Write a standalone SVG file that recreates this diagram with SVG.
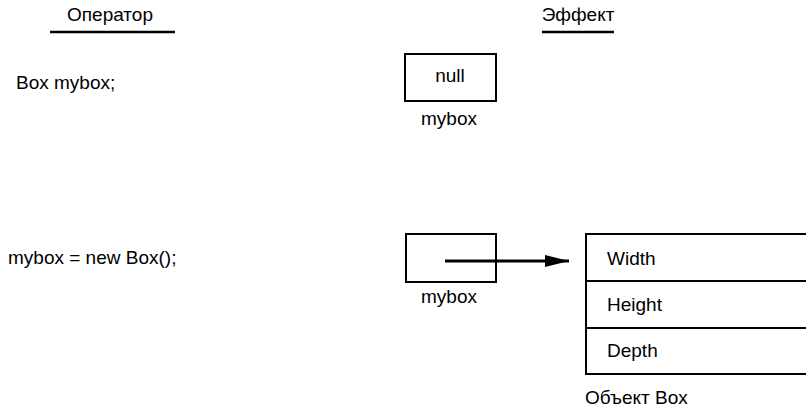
<svg xmlns="http://www.w3.org/2000/svg" width="806" height="408" viewBox="0 0 806 408">
<style>
text{font-family:"Liberation Sans",Arial,sans-serif;font-size:19px;fill:#000}
.box{fill:#fff;stroke:#000;stroke-width:2}
.rule{stroke:#000;stroke-width:2.5}
.mid{text-anchor:middle}
</style>
<defs>
<marker id="ah" markerWidth="8" markerHeight="4" refX="8" refY="2" orient="auto" markerUnits="strokeWidth"><path d="M0,0 L8,2 L0,4 Z" fill="#000"/></marker>
</defs>
<rect width="806" height="408" fill="#fff"/>
<g id="header-operator">
<text x="110" y="21" class="mid">Оператор</text>
<line class="rule" x1="50" y1="32" x2="175" y2="32"/>
</g>
<g id="header-effect">
<text x="578" y="21" class="mid">Эффект</text>
<line class="rule" x1="542" y1="32" x2="614" y2="32"/>
</g>
<g id="stmt1"><text x="16" y="89">Box mybox;</text></g>
<g id="stmt2"><text x="8" y="264">mybox = new Box();</text></g>
<g id="ref-null">
<rect class="box" x="405" y="54" width="91" height="47"/>
<text x="450" y="82" class="mid">null</text>
<text x="449" y="125" class="mid">mybox</text>
</g>
<g id="ref-obj">
<rect class="box" x="406" y="234" width="90" height="48"/>
<text x="449" y="303" class="mid">mybox</text>
</g>
<g id="box-object">
<rect class="box" x="586" y="234" width="240" height="140"/>
<line x1="586" y1="281" x2="806" y2="281" stroke="#000" stroke-width="2"/>
<line x1="586" y1="328" x2="806" y2="328" stroke="#000" stroke-width="2"/>
<text x="607" y="265">Width</text>
<text x="607" y="311">Height</text>
<text x="607" y="357">Depth</text>
<text x="585" y="404">Объект Box</text>
</g>
<g id="connectors">
<line x1="445" y1="261" x2="569" y2="261" stroke="#000" stroke-width="3" marker-end="url(#ah)"/>
</g>
</svg>
